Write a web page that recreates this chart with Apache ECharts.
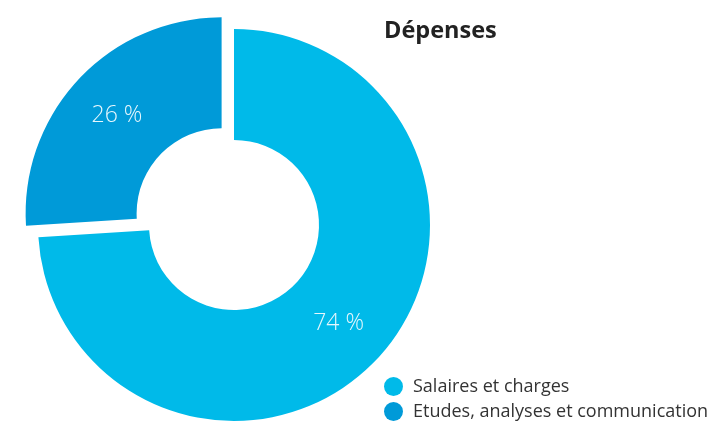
<!DOCTYPE html>
<html>
<head>
<meta charset="utf-8">
<script src="https://cdn.jsdelivr.net/npm/echarts@6/dist/echarts.min.js"></script>
<style>html,body{margin:0;padding:0;background:#fff;}#c{width:711px;height:425px;}</style>
</head>
<body>
<div id="c"></div>
<script>
const title = 'Dépenses';
const categories = ['Salaires et charges', 'Etudes, analyses et communication'];
const values = [74, 26];
const colors = ['#00BAE9', '#009AD8'];
const selectedFlags = [false, true];

const chart = echarts.init(document.getElementById('c'), null, {renderer: 'canvas'});
chart.setOption({
  animation: false,
  backgroundColor: '#fff',
  title: {
    text: title,
    left: 379,
    top: 14,
    textStyle: {fontFamily: 'Open Sans', fontWeight: 'bold', fontSize: 23.5, color: '#222'}
  },
  legend: {
    orient: 'vertical',
    left: 384,
    top: 377,
    height: 48,
    padding: 0,
    itemWidth: 19,
    itemHeight: 19,
    itemGap: 6,
    icon: 'circle',
    selectedMode: false,
    data: categories,
    textStyle: {fontFamily: 'Open Sans', fontSize: 18, color: '#333', padding: [0, 0, 0, 5]}
  },
  series: [{
    type: 'pie',
    center: [234, 225],
    radius: [85, 196],
    startAngle: 90,
    clockwise: true,
    selectedMode: 'single',
    selectedOffset: 17,
    avoidLabelOverlap: false,
    emphasis: {disabled: true},
    label: {
      show: true,
      position: 'inside',
      formatter: '{c} %',
      color: '#e6f7fd',
      fontFamily: 'Open Sans',
      fontWeight: 300,
      fontSize: 23
    },
    labelLine: {show: false},
    data: categories.map((n, i) => ({
      name: n,
      value: values[i],
      selected: selectedFlags[i],
      itemStyle: {color: colors[i]}
    }))
  }]
});
</script>
</body>
</html>
